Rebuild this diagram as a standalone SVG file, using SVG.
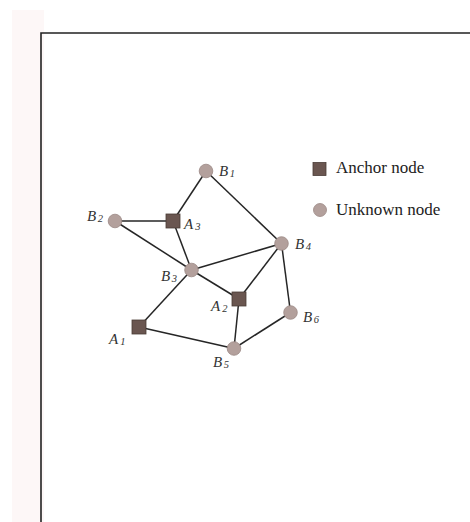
<svg xmlns="http://www.w3.org/2000/svg" width="470" height="522" viewBox="0 0 470 522">
<style>
.frame{fill:none;stroke:#222;stroke-width:1.6}
.edge{stroke:#262626;stroke-width:1.5;fill:none}
.anchor{fill:#6a5650;stroke:#4a3c36;stroke-width:0.8}
.unknown{fill:#b3a09c;stroke:#9a8884;stroke-width:0.8}
.lbl{font-family:"Liberation Serif",serif;font-style:italic;font-size:15px;fill:#333}
.sub{font-size:10.5px}
.leg{font-family:"Liberation Serif",serif;font-size:17px;fill:#222}
</style>
<rect x="0" y="0" width="470" height="522" fill="#ffffff"/>
<rect x="12" y="10" width="32" height="512" fill="#fdf7f7"/>
<path class="frame" d="M41,522 V33 H470"/>
<g id="connectors">
<line class="edge" x1="206" y1="171" x2="173" y2="221"/>
<line class="edge" x1="206" y1="171" x2="281.5" y2="243.5"/>
<line class="edge" x1="115" y1="221" x2="173" y2="221"/>
<line class="edge" x1="115" y1="221" x2="191.5" y2="270"/>
<line class="edge" x1="173" y1="221" x2="191.5" y2="270"/>
<line class="edge" x1="191.5" y1="270" x2="281.5" y2="243.5"/>
<line class="edge" x1="191.5" y1="270" x2="239" y2="299"/>
<line class="edge" x1="191.5" y1="270" x2="139" y2="327"/>
<line class="edge" x1="281.5" y1="243.5" x2="239" y2="299"/>
<line class="edge" x1="281.5" y1="243.5" x2="290.5" y2="312.5"/>
<line class="edge" x1="239" y1="299" x2="234" y2="348.5"/>
<line class="edge" x1="139" y1="327" x2="234" y2="348.5"/>
<line class="edge" x1="290.5" y1="312.5" x2="234" y2="348.5"/>
</g>
<g id="B1"><circle class="unknown" cx="206" cy="171" r="6.8"/><text class="lbl" x="219" y="176">B<tspan class="sub" dx="1.5" dy="1">1</tspan></text></g>
<g id="B2"><circle class="unknown" cx="115" cy="221" r="6.8"/><text class="lbl" x="87" y="221">B<tspan class="sub" dx="1.5" dy="1">2</tspan></text></g>
<g id="A3"><rect class="anchor" x="166" y="214" width="14" height="14"/><text class="lbl" x="184" y="229">A<tspan class="sub" dx="2" dy="1">3</tspan></text></g>
<g id="B4"><circle class="unknown" cx="281.5" cy="243.5" r="6.8"/><text class="lbl" x="295" y="249">B<tspan class="sub" dx="1.5" dy="1">4</tspan></text></g>
<g id="B3"><circle class="unknown" cx="191.5" cy="270" r="6.8"/><text class="lbl" x="161" y="281">B<tspan class="sub" dx="1.5" dy="1">3</tspan></text></g>
<g id="A2"><rect class="anchor" x="232" y="292" width="14" height="14"/><text class="lbl" x="211" y="311">A<tspan class="sub" dx="2" dy="1">2</tspan></text></g>
<g id="B6"><circle class="unknown" cx="290.5" cy="312.5" r="6.8"/><text class="lbl" x="303" y="322">B<tspan class="sub" dx="1.5" dy="1">6</tspan></text></g>
<g id="A1"><rect class="anchor" x="132" y="320" width="14" height="14"/><text class="lbl" x="109" y="344">A<tspan class="sub" dx="2" dy="1">1</tspan></text></g>
<g id="B5"><circle class="unknown" cx="234" cy="348.5" r="6.8"/><text class="lbl" x="213" y="367">B<tspan class="sub" dx="1.5" dy="1">5</tspan></text></g>
<g id="legend">
<rect class="anchor" x="313" y="162.5" width="13" height="13"/>
<text class="leg" x="336" y="173">Anchor node</text>
<circle class="unknown" cx="320" cy="210" r="6.5"/>
<text class="leg" x="336" y="215">Unknown node</text>
</g>
</svg>
